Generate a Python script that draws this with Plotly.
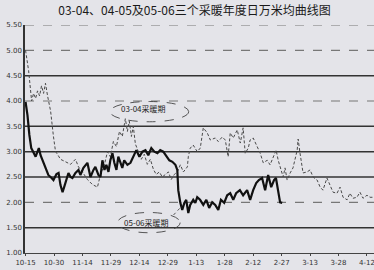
import pandas as pd
import plotly.graph_objects as go

# ---- data ----
base_date = "2003-10-15"
tick_labels = ["10-15", "10-30", "11-14", "11-29", "12-14", "12-29", "1-13",
               "1-28", "2-12", "2-27", "3-13", "3-28", "4-12"]
tick_offsets = [0, 15, 30, 45, 60, 75, 90, 105, 120, 135, 150, 165, 180]

days_0304 = [0, 1.6, 3.2, 4.2, 5.3, 6.3, 7.4, 8.4, 9.5, 10.5, 11.6, 13.2, 14.7, 15.8, 16.8,
             18.4, 21.1, 23.7, 26.3, 27.9, 30, 32.6, 35.3, 37.9, 39.5, 41.6, 43.2, 44.7,
             46.3, 47.9, 49.5, 51, 52.6, 53.7, 54.7, 55.8, 56.8, 57.9, 59.5, 61, 62.6,
             64.2, 65.8, 67.4, 68.9, 70.5, 72.1, 73.7, 75.3, 76.8, 78.4, 80, 81.6, 83.2,
             85.3, 85.8, 86.8, 88.4, 90.5, 92.1, 93.7, 95.8, 97.4, 100, 101.6, 103.7,
             105.3, 106.8, 107.9, 109.5, 111.6, 113.2, 114.7, 115.8, 117.4, 118.4, 120,
             122.1, 123.7, 125.3, 127.4, 128.9, 130.5, 132.1, 133.2, 135.3, 135.8, 136.8,
             137.9, 139.5, 141, 143.2, 143.7, 144.7, 146.3, 148.4, 150, 151.6, 153.7,
             155.3, 156.8, 158.9, 160.5, 162.1, 164.2, 165.8, 167.4, 169.5, 171, 172.6,
             174.7, 176.3, 177.9, 180, 181.6, 183.7]
vals_0304 = [5.0, 4.6, 4.0, 4.15, 4.05, 4.2, 4.1, 4.3, 4.15, 4.35, 4.1, 3.8, 3.3, 3.0, 2.95,
             2.85, 2.8, 2.75, 2.85, 2.7, 2.6, 2.45, 2.35, 2.3, 2.55, 2.75, 3.0, 2.9,
             3.2, 3.1, 3.4, 3.3, 3.65, 3.4, 3.6, 3.3, 3.5, 3.15, 3.0, 2.85, 2.95,
             2.75, 2.85, 2.65, 2.55, 2.6, 2.5, 2.55, 2.6, 2.45, 2.55, 2.6, 2.74, 2.6,
             2.7, 2.9, 3.07, 3.13, 3.0, 3.07, 3.47, 3.37, 3.23, 3.27, 3.2, 3.29,
             3.23, 2.9, 3.37, 3.27, 3.43, 3.17, 3.47, 2.97, 3.07, 3.23, 3.27,
             3.1, 2.97, 2.78, 2.83, 2.74, 2.9, 3.03, 2.83, 2.6, 2.5, 2.68,
             2.44, 2.58, 2.68, 3.03, 3.25, 2.97, 2.58, 2.6, 2.64, 2.5, 2.44,
             2.3, 2.24, 2.48, 2.34, 2.2, 2.18, 2.3, 2.1, 2.05, 2.18, 2.08,
             2.1, 2.2, 2.08, 2.14, 2.1, 2.1]

days_0506 = [0, 1, 2, 3, 4, 5.3, 6.3, 7, 7.9, 9, 10.5, 12, 13.7, 14.7, 16.3, 17.4, 18.4,
             19.5, 20.5, 21.6, 22.6, 23.7, 24.7, 26.3, 27.9, 28.9, 30.5, 32.6, 34.2, 35.8,
             36.8, 38.4, 39.5, 40.5, 41.6, 42.6, 43.7, 44.7, 45.8, 46.8, 47.9, 48.9, 50,
             51, 52, 53.7, 55.3, 56.8, 58.4, 60, 61.6, 63.2, 64.7, 66.3, 67.9, 69.5, 71,
             72.6, 74.2, 75.8, 77.4, 79, 80, 80.5, 81.6, 82.6, 83.7, 84.7, 85.8, 86.8,
             88.4, 89.5, 90.5, 92, 93.7, 95.3, 96.8, 98.4, 100, 101.6, 103, 104.7, 106.3,
             107.9, 109.5, 111, 113, 114.7, 116.8, 118.4, 120, 121.6, 123, 124.7, 126.3,
             127.9, 129.5, 131, 132, 133.2, 134.2, 135.3]
vals_0506 = [3.98, 3.72, 3.33, 3.07, 3.0, 2.9, 3.0, 3.07, 2.93, 2.83, 2.7, 2.54, 2.48, 2.44,
             2.56, 2.58, 2.34, 2.2, 2.32, 2.44, 2.58, 2.5, 2.48, 2.58, 2.64, 2.54, 2.68,
             2.78, 2.5, 2.64, 2.7, 2.54, 2.5, 2.83, 2.64, 2.74, 2.6, 2.83, 2.97, 2.78,
             2.64, 2.9, 2.8, 2.68, 2.83, 2.74, 2.78, 2.9, 3.03, 2.9, 3.0, 3.03, 2.93,
             3.07, 3.0, 2.97, 3.03, 3.0, 2.91, 2.83, 2.8, 2.74, 2.64, 2.24, 1.99, 1.85,
             1.99, 2.05, 1.79, 1.95, 2.05, 1.99, 2.1, 2.05, 1.95, 2.05, 1.89, 2.0, 1.95,
             1.85, 2.05, 1.99, 2.14, 2.18, 2.05, 2.18, 2.24, 2.14, 2.24, 2.05, 2.24, 2.38,
             2.44, 2.48, 2.24, 2.54, 2.3, 2.44, 2.48, 2.18, 2.0, 1.99]

grid_levels = [1.5, 2.0, 2.5, 3.0, 3.5, 4.0, 4.5, 5.0, 5.5]
grid_dashed = [False, True, False, False, False, True, False, True, True]

base = pd.Timestamp(base_date)
def to_date(d):
    return base + pd.to_timedelta(d, unit="D")

x0304 = [to_date(d) for d in days_0304]
x0506 = [to_date(d) for d in days_0506]
tickvals = [to_date(d) for d in tick_offsets]

CJK = "Noto Sans CJK SC"
BG = "#e4e4e9"

fig = go.Figure()
fig.add_trace(go.Scatter(x=x0304, y=vals_0304, mode="lines", name="03-04",
                         line=dict(color="#4a4a4a", width=1.0, dash="3px,2px")))
fig.add_trace(go.Scatter(x=x0506, y=vals_0506, mode="lines", name="05-06",
                         line=dict(color="#111111", width=2.2)))

shapes = []
for lv, dsh in zip(grid_levels, grid_dashed):
    shapes.append(dict(type="line", xref="paper", yref="y", x0=0, x1=1, y0=lv, y1=lv,
                       layer="below",
                       line=dict(color="#777777" if dsh else "#333333",
                                 width=1.2 if dsh else 1.5,
                                 dash="dash" if dsh else "solid")))
# ellipses around the labels
shapes.append(dict(type="circle", xref="x", yref="y",
                   x0=to_date(44.5), x1=to_date(86), y0=3.59, y1=3.99,
                   line=dict(color="#444444", width=0.9, dash="dash")))
shapes.append(dict(type="circle", xref="x", yref="y",
                   x0=to_date(48.5), x1=to_date(81.5), y0=1.40, y1=1.80,
                   line=dict(color="#444444", width=0.9, dash="dash")))
shapes.append(dict(type="line", xref="x", yref="y",
                   x0=to_date(78), x1=to_date(83), y0=1.75, y1=1.95,
                   line=dict(color="#444444", width=0.9, dash="dot")))

fig.update_layout(
    width=374, height=270,
    margin=dict(l=25, r=0, t=25, b=17),
    paper_bgcolor=BG, plot_bgcolor=BG,
    showlegend=False,
    shapes=shapes,
    title=dict(text="03-04、04-05及05-06三个采暖年度日万米均曲线图",
               x=0.52, xanchor="center", y=0.975, yanchor="top",
               font=dict(family=CJK, size=12, color="#1a1a1a")),
    annotations=[
        dict(x=to_date(62), y=3.85, xref="x", yref="y", text="03-04采暖期",
             showarrow=False, font=dict(family=CJK, size=8, color="#222222")),
        dict(x=to_date(64), y=1.6, xref="x", yref="y", text="05-06采暖期",
             showarrow=False, font=dict(family=CJK, size=8, color="#222222")),
    ],
)
fig.update_xaxes(range=[to_date(-0.3), to_date(183.7)], tickvals=tickvals,
                 ticktext=tick_labels, showgrid=False, showline=True,
                 linecolor="#444444", linewidth=1.2, ticks="outside", ticklen=2,
                 tickcolor="#444444", ticklabeloverflow="allow",
                 tickfont=dict(family="DejaVu Sans", size=7, color="#333333"))
fig.update_yaxes(range=[1.0, 5.5], tickvals=[1.0, 1.5, 2.0, 2.5, 3.0, 3.5, 4.0, 4.5, 5.0, 5.5],
                 tickformat=".2f", showgrid=False, zeroline=False, showline=True,
                 linecolor="#333333", linewidth=1.5,
                 tickfont=dict(family="DejaVu Sans", size=7, color="#333333"))

fig.write_html("out.html")
